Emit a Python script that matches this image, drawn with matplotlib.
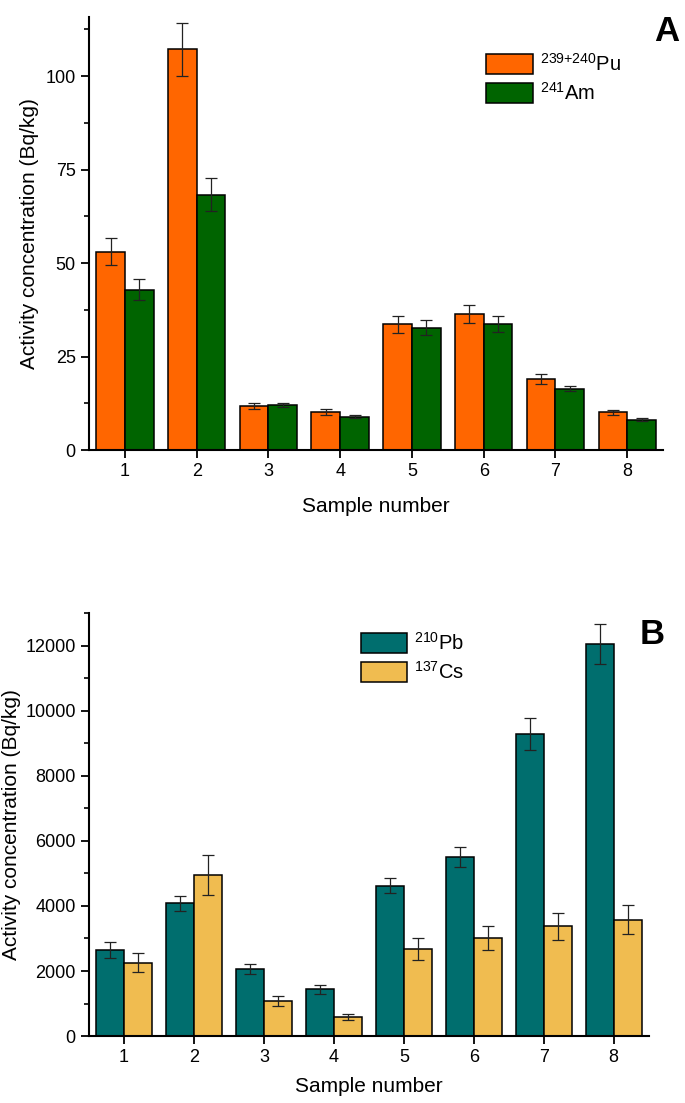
import matplotlib
matplotlib.use("Agg")
import matplotlib.pyplot as plt
import numpy as np
from matplotlib.ticker import MultipleLocator
from matplotlib import font_manager

plt.rcParams['font.family'] = ['Liberation Sans', 'DejaVu Sans']
plt.rcParams['mathtext.fontset'] = 'custom'
plt.rcParams['mathtext.rm'] = 'Liberation Sans'
plt.rcParams['mathtext.it'] = 'Liberation Sans'

samples = [1, 2, 3, 4, 5, 6, 7, 8]
pu = [53.0, 107.1, 11.7, 10.1, 33.6, 36.4, 18.9, 10.1]
pu_err = [3.6, 7.0, 0.8, 0.8, 2.3, 2.5, 1.3, 0.7]
am = [42.9, 68.3, 12.0, 8.9, 32.7, 33.7, 16.4, 8.1]
am_err = [2.9, 4.3, 0.6, 0.4, 2.0, 2.1, 0.7, 0.4]

pb = [2655, 4079, 2066, 1435, 4625, 5514, 9283, 12045]
pb_err = [245, 235, 160, 140, 236, 310, 490, 620]
cs = [2259, 4946, 1081, 578, 2677, 3019, 3373, 3576]
cs_err = [280, 610, 160, 90, 340, 375, 420, 450]

c_pu = '#FF6600'
c_am = '#006400'
c_pb = '#006E6E'
c_cs = '#F0BC50'

names = {f.name for f in font_manager.fontManager.ttflist}
tick_family = 'Liberation Sans Narrow' if 'Liberation Sans Narrow' in names else 'Liberation Sans'
tick_size = 15 if tick_family == 'Liberation Sans Narrow' else 13

fig = plt.figure(figsize=(6.85, 11.03), dpi=100)
ax1 = fig.add_axes([0.130, 0.592, 0.838, 0.393])
ax2 = fig.add_axes([0.130, 0.0607, 0.817, 0.3833])

w = 0.4
ekw = dict(elinewidth=0.9, capthick=0.9, ecolor='#222222')


def style(ax, ymax, major, minor, xpad, ylab_x):
    x = np.array(samples)
    ax.set_xlim(0.5, 8.5)
    ax.set_ylim(0, ymax)
    ax.spines['top'].set_visible(False)
    ax.spines['right'].set_visible(False)
    ax.spines['left'].set_linewidth(1.5)
    ax.spines['bottom'].set_linewidth(1.5)
    ax.set_xticks(x)
    ax.set_xticklabels([str(s) for s in samples])
    ax.yaxis.set_major_locator(MultipleLocator(major))
    ax.yaxis.set_minor_locator(MultipleLocator(minor))
    ax.tick_params(axis='both', which='major', direction='out', length=6, width=1.3,
                   labelsize=tick_size)
    ax.tick_params(axis='y', which='minor', direction='out', length=3.5, width=1.2)
    for lab in ax.get_xticklabels() + ax.get_yticklabels():
        lab.set_family(tick_family)
    ax.set_xlabel('Sample number', fontsize=15, labelpad=xpad)
    ax.set_ylabel('Activity concentration (Bq/kg)', fontsize=15)
    ax.yaxis.set_label_coords(ylab_x, 0.5)


legkw = dict(loc='upper left', frameon=False, fontsize=14.5, handlelength=2.3,
             handleheight=1.15, handletextpad=0.35, labelspacing=0.35,
             borderaxespad=0, borderpad=0)

x = np.array(samples)
ax1.bar(x - w / 2, pu, w, yerr=pu_err, color=c_pu, edgecolor='black', linewidth=1.1,
        capsize=4, error_kw=ekw, label=r'$^{239{+}240}$Pu')
ax1.bar(x + w / 2, am, w, yerr=am_err, color=c_am, edgecolor='black', linewidth=1.1,
        capsize=4, error_kw=ekw, label=r'$^{241}$Am')
style(ax1, 115.9, 25, 12.5, 12, -0.087)
ax1.legend(bbox_to_anchor=(0.692, 0.916), **legkw)
fig.text(0.992, 0.986, 'A', fontsize=25, fontweight='bold', ha='right', va='top')

ax2.bar(x - w / 2, pb, w, yerr=pb_err, color=c_pb, edgecolor='black', linewidth=1.1,
        capsize=4, error_kw=ekw, label=r'$^{210}$Pb')
ax2.bar(x + w / 2, cs, w, yerr=cs_err, color=c_cs, edgecolor='black', linewidth=1.1,
        capsize=4, error_kw=ekw, label=r'$^{137}$Cs')
style(ax2, 13000, 2000, 1000, 8, -0.121)
ax2.legend(bbox_to_anchor=(0.486, 0.955), **legkw)
fig.text(0.970, 0.440, 'B', fontsize=25, fontweight='bold', ha='right', va='top')

fig.savefig('out.png', dpi=100)
